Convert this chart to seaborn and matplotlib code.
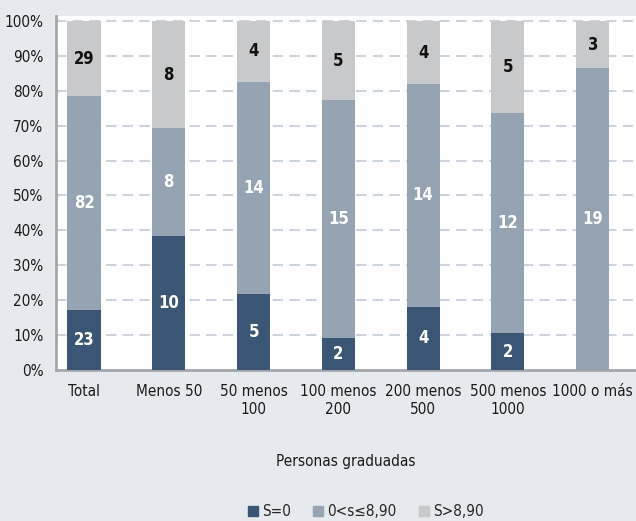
import matplotlib
matplotlib.use("Agg")
import matplotlib.pyplot as plt
import seaborn as sns
import pandas as pd
import numpy as np
from matplotlib.lines import Line2D

categories = ["Total", "Menos 50", "50 menos\n100", "100 menos\n200", "200 menos\n500", "500 menos\n1000", "1000 o más"]
s_zero = [23, 10, 5, 2, 4, 2, 0]
s_mid = [82, 8, 14, 15, 14, 12, 19]
s_high = [29, 8, 4, 5, 4, 5, 3]
series_names = ["S=0", "0<s≤8,90", "S>8,90"]
colors = ["#3b5675", "#95a3b3", "#c8c9cb"]

sns.set_theme(style="white")
plt.rcParams['font.family'] = ['DejaVu Sans']
plt.rcParams['font.stretch'] = 'condensed'

df = pd.DataFrame({"cat": categories, "a": s_zero, "b": s_mid, "c": s_high})
tot = df[["a", "b", "c"]].sum(axis=1)
df["pa"] = df["a"] / tot
df["pb"] = df["b"] / tot
df["pc"] = df["c"] / tot
df["cum_a"] = df["pa"]
df["cum_b"] = df["pa"] + df["pb"]
df["cum_c"] = df["cum_b"] + df["pc"]

fig = plt.figure(figsize=(6.36, 5.21), dpi=100, facecolor="#e6e9ed")
ax = fig.add_axes([56/636, 1-370/521, 1-56/636, (370-16)/521])
ax.set_facecolor("white")

for yv in np.arange(0.1, 1.01, 0.1):
    ax.axhline(yv, color="#cdd4dd", lw=1.5, ls=(0, (5, 3)), zorder=0)

w = 0.39
sns.barplot(data=df, x="cat", y="cum_c", color=colors[2], width=w, saturation=1, ax=ax, zorder=2, linewidth=0)
sns.barplot(data=df, x="cat", y="cum_b", color=colors[1], width=w, saturation=1, ax=ax, zorder=3, linewidth=0)
sns.barplot(data=df, x="cat", y="cum_a", color=colors[0], width=w, saturation=1, ax=ax, zorder=4, linewidth=0)

fs = 12
for i in range(len(categories)):
    vals = [s_zero[i], s_mid[i], s_high[i]]
    lows = [0, df["cum_a"][i], df["cum_b"][i]]
    highs = [df["cum_a"][i], df["cum_b"][i], df["cum_c"][i]]
    for k in range(3):
        if vals[k] == 0:
            continue
        ax.text(i, (lows[k] + highs[k]) / 2, str(vals[k]), ha="center", va="center",
                fontsize=fs, fontweight="bold", color="white" if k < 2 else "#111111", zorder=6)

lab_fs = 11
ax.set_xlim(-0.33, 6.51)
ax.set_ylim(0, 1.014)
ax.set_yticks(np.arange(0, 1.01, 0.1))
ax.set_yticklabels([f"{int(round(v*100))}%" for v in np.arange(0, 1.01, 0.1)], fontsize=lab_fs, color="#1a1a1a")
ax.tick_params(axis="x", labelsize=lab_fs, colors="#1a1a1a", pad=10, length=0)
ax.tick_params(axis="y", length=0, pad=9)
ax.set_xticks(range(len(categories)))
ax.set_xticklabels(categories, linespacing=1.3)
ax.set_xlabel("Personas graduadas", fontsize=lab_fs, color="#1a1a1a", labelpad=26)
ax.set_ylabel("")
for s in ["top", "right"]:
    ax.spines[s].set_visible(False)
ax.spines["left"].set_color("#a3a7ab")
ax.spines["left"].set_linewidth(2)
ax.spines["bottom"].set_color("#a3a7ab")
ax.spines["bottom"].set_linewidth(2)

handles = [Line2D([0], [0], marker="s", ls="", markersize=7, markerfacecolor=c, markeredgecolor=c) for c in colors]
fig.legend(handles, series_names, loc="center", bbox_to_anchor=(0.572, 1-512/521), ncol=3, frameon=False,
           fontsize=lab_fs, handletextpad=0.0, columnspacing=1.2, handlelength=1.2)

fig.savefig("out.png", dpi=100, facecolor=fig.get_facecolor())
